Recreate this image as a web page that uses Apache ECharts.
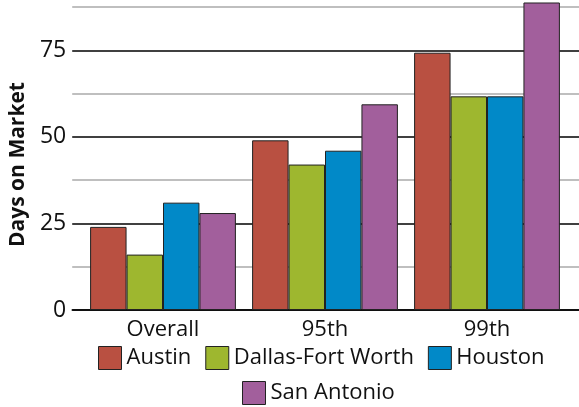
<!DOCTYPE html>
<html>
<head>
<meta charset="utf-8">
<style type="text/css">
	html, body{
		margin: 0;
		padding: 0;
		background: #fff;
	}
	#chart_box{
		width: 579px;
		height: 407px;
	}
</style>
<script type="text/javascript" src="https://cdn.jsdelivr.net/npm/echarts@6/dist/echarts.min.js"></script>
</head>
<body>
<div id="chart_box"></div>

<script type="text/javascript">
var categories = ['Overall', '95th', '99th'];
var cities = ['Austin', 'Dallas-Fort Worth', 'Houston', 'San Antonio'];
var austin = [24, 49, 74.3];
var dallas = [16, 42, 61.7];
var houston = [31, 46, 61.7];
var sanAntonio = [28, 59.4, 88.8];
var colors = ['#b95041', '#9eb72f', '#0189c8', '#a25f9c'];

var font = '"Open Sans", sans-serif';
var myChart = echarts.init(document.getElementById('chart_box'));

var values = [austin, dallas, houston, sanAntonio];
var series = cities.map(function(name, i) {
	return {
		name: name,
		type: 'bar',
		xAxisIndex: 1,
		yAxisIndex: 1,
		barGap: 0,
		barCategoryGap: '10%',
		clip: false,
		itemStyle: {
			color: colors[i],
			borderColor: '#222',
			borderWidth: 1
		},
		data: values[i]
	};
});

var option = {
	animation: false,
	grid: [
		{ left: 66, right: 0, top: 7, bottom: 97 },
		{ left: 82, right: 11, top: 7, bottom: 97 }
	],
	xAxis: [
		{
			type: 'value',
			gridIndex: 0,
			min: 0,
			max: 1,
			axisLine: { show: true, onZero: false, lineStyle: { color: '#000', width: 1.5 } },
			axisTick: { show: false },
			axisLabel: { show: false },
			splitLine: { show: false }
		},
		{
			type: 'category',
			gridIndex: 1,
			data: categories,
			axisLine: { show: false },
			axisTick: { show: false },
			axisLabel: {
				margin: 9,
				color: '#111',
				fontSize: 22,
				fontFamily: font
			}
		}
	],
	yAxis: [
		{
			type: 'value',
			gridIndex: 0,
			min: 0,
			max: 87.5,
			interval: 12.5,
			name: 'Days on Market',
			nameLocation: 'middle',
			nameGap: 29,
			nameTextStyle: {
				color: '#111',
				fontSize: 21,
				fontWeight: 'bold',
				fontFamily: font,
				padding: [0, 12, 0, 0]
			},
			axisLine: { show: false },
			axisTick: { show: false },
			axisLabel: {
				margin: 6,
				color: '#111',
				fontSize: 23,
				fontFamily: font,
				formatter: function(v) {
					return v % 25 === 0 ? String(v) : '';
				}
			},
			splitLine: {
				lineStyle: { color: ['#000', '#aaa'], width: 1.5 }
			}
		},
		{
			type: 'value',
			gridIndex: 1,
			min: 0,
			max: 87.5,
			show: false
		}
	],
	legend: [
		{
			left: 93,
			top: 341,
			itemWidth: 23,
			itemHeight: 23,
			itemGap: 14,
			icon: 'rect',
			itemStyle: { borderColor: '#222', borderWidth: 1 },
			textStyle: { color: '#111', fontSize: 22, fontFamily: font },
			data: ['Austin', 'Dallas-Fort Worth', 'Houston']
		},
		{
			left: 237,
			top: 376,
			itemWidth: 23,
			itemHeight: 23,
			icon: 'rect',
			itemStyle: { borderColor: '#222', borderWidth: 1 },
			textStyle: { color: '#111', fontSize: 22, fontFamily: font },
			data: ['San Antonio']
		}
	],
	series: series
};
myChart.setOption(option);
</script>
</body>
</html>
